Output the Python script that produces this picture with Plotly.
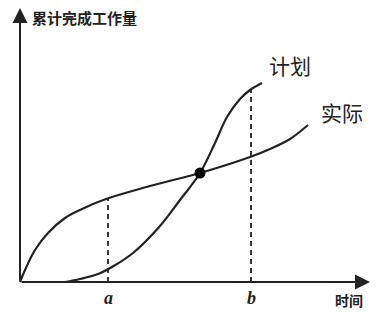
import plotly.graph_objects as go

# Data (time units, cumulative work units)
actual_t = [0, 5, 15, 28, 45, 62, 78, 92, 130, 180, 230, 250, 270, 288]
actual_w = [0, 12, 32, 49, 64, 73, 80, 85, 96, 109, 125, 133, 143, 157]
plan_t = [45, 60, 78, 92, 113, 140, 160, 180, 195, 207, 220, 230, 242]
plan_w = [0, 3, 8, 15, 29, 56, 82, 109, 139, 165, 183, 192, 199]
cross_t = [180]
cross_w = [109]
tick_labels = ["a", "b"]
tick_t = [88, 231]
tick_top = [84, 193]
axis_len_t = 350
axis_len_w = 274

ink = "#222222"
fig = go.Figure()

# dashed guide lines
for t, top in zip(tick_t, tick_top):
    fig.add_trace(go.Scatter(x=[t, t], y=[0, top], mode="lines",
                             line=dict(color=ink, width=1.8, dash="5px,4px"),
                             hoverinfo="skip", showlegend=False))

fig.add_trace(go.Scatter(x=actual_t, y=actual_w, mode="lines",
                         line=dict(color=ink, width=2.2, shape="spline", smoothing=1),
                         showlegend=False))
fig.add_trace(go.Scatter(x=plan_t, y=plan_w, mode="lines",
                         line=dict(color=ink, width=2.2, shape="spline", smoothing=1),
                         showlegend=False))
fig.add_trace(go.Scatter(x=cross_t, y=cross_w, mode="markers",
                         marker=dict(color="black", size=11),
                         showlegend=False))

# axes with arrows
fig.add_annotation(x=0, y=axis_len_w, ax=0, ay=0, xref="x", yref="y",
                   axref="x", ayref="y", showarrow=True, arrowhead=2,
                   arrowsize=1.5, arrowwidth=2, arrowcolor=ink, text="")
fig.add_annotation(x=axis_len_t, y=0, ax=0, ay=0, xref="x", yref="y",
                   axref="x", ayref="y", showarrow=True, arrowhead=2,
                   arrowsize=1.5, arrowwidth=2, arrowcolor=ink, text="")

cjk = "Noto Sans CJK SC"
fig.add_annotation(x=10, y=265, xref="x", yref="y", text="<b>累计完成工作量</b>",
                   showarrow=False, xanchor="left", yanchor="middle",
                   font=dict(family=cjk, size=15, color=ink))
fig.add_annotation(x=329, y=-18, xref="x", yref="y", text="<b>时间</b>",
                   showarrow=False, font=dict(family=cjk, size=14, color=ink))
fig.add_annotation(x=270, y=217, xref="x", yref="y", text="计划",
                   showarrow=False, font=dict(family=cjk, size=21, color=ink))
fig.add_annotation(x=322, y=170, xref="x", yref="y", text="实际",
                   showarrow=False, font=dict(family=cjk, size=21, color=ink))
for t, lab in zip(tick_t, tick_labels):
    fig.add_annotation(x=t, y=-16, xref="x", yref="y", text="<b><i>%s</i></b>" % lab,
                       showarrow=False,
                       font=dict(family="Liberation Serif", size=18, color=ink))

fig.update_layout(
    width=387, height=323, margin=dict(l=0, r=0, t=0, b=0),
    paper_bgcolor="white", plot_bgcolor="white",
    xaxis=dict(range=[-20, 367], visible=False, fixedrange=True),
    yaxis=dict(range=[-41, 282], visible=False, fixedrange=True),
)
fig.write_html("out.html")
